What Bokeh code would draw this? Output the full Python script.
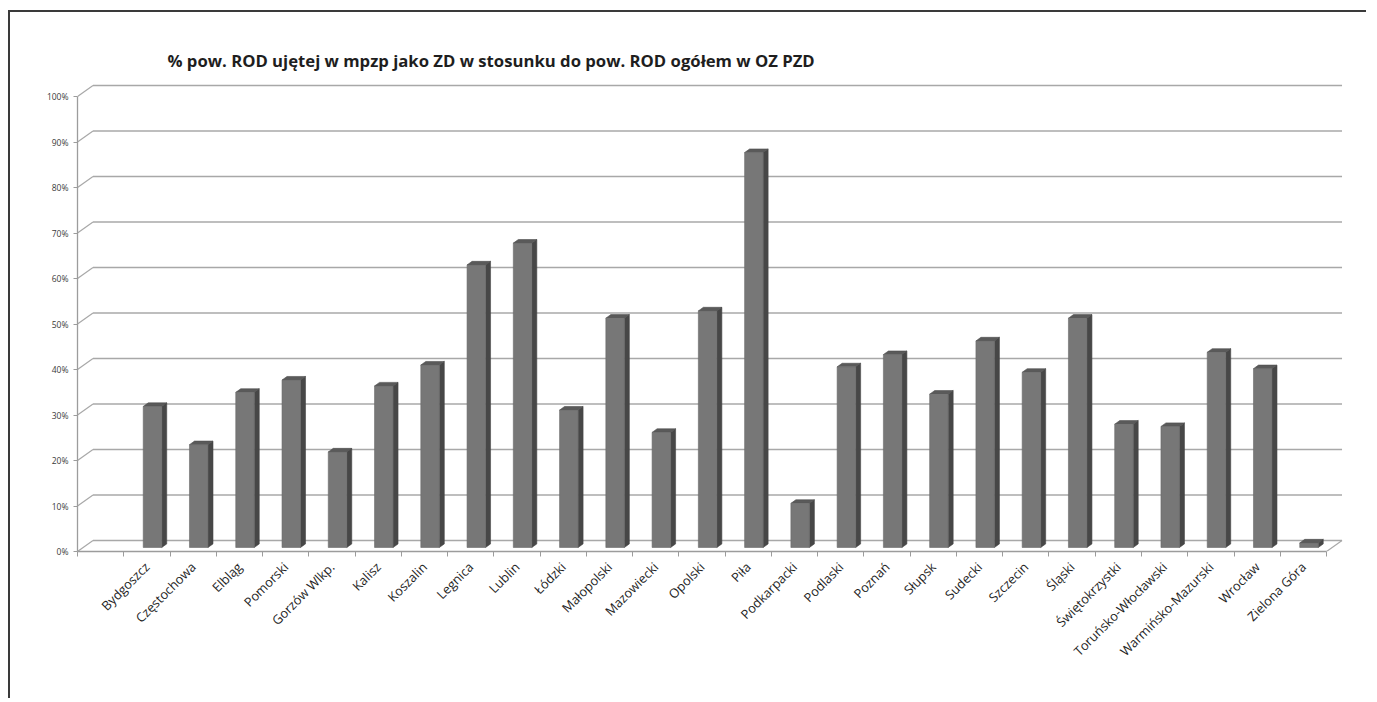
import math

from bokeh.embed import file_html
from bokeh.models import FixedTicker, PrintfTickFormatter, Range1d
from bokeh.plotting import figure
from bokeh.resources import INLINE

# Share of allotment-garden (ROD) area designated as ZD in local plans, per PZD district
regions = [
    "Bydgoszcz", "Częstochowa", "Elbląg", "Pomorski", "Gorzów Wlkp.", "Kalisz",
    "Koszalin", "Legnica", "Lublin", "Łódzki", "Małopolski", "Mazowiecki",
    "Opolski", "Piła", "Podkarpacki", "Podlaski", "Poznań", "Słupsk", "Sudecki",
    "Szczecin", "Śląski", "Świętokrzystki", "Toruńsko-Włocławski",
    "Warmińsko-Mazurski", "Wrocław", "Zielona Góra",
]
share_pct = [
    31.0, 22.6, 34.1, 36.8, 21.0, 35.5,
    40.1, 62.1, 66.9, 30.2, 50.4, 25.3,
    52.0, 86.8, 9.7, 39.7, 42.4, 33.7, 45.4,
    38.5, 50.4, 27.1, 26.6,
    42.9, 39.3, 1.0,
]
y_ticks = list(range(0, 101, 10))

title_text = "% pow. ROD ujętej w mpzp jako ZD w stosunku do pow. ROD ogółem w OZ PZD"

# category slots: the first slot of the axis is left empty
n_slots = len(regions) + 1
centers = [k + 1.5 for k in range(len(regions))]

# pseudo-3D geometry (x in slot units, y in percent units)
WALL_DX, WALL_DY = 0.335, 2.42     # depth of the floor / back wall
FACE_DX, FACE_DY = 0.121, 0.88     # bar front face position in depth
BAR_DX, BAR_DY = 0.108, 0.79       # bar thickness in depth
BAR_W = 0.40

GRID = "#a8a8a8"
AXIS = "#9c9c9c"

p = figure(
    width=1358, height=688,
    x_range=Range1d(0, 27.41), y_range=Range1d(0, 103.52),
    output_backend="svg", toolbar_location=None,
    min_border_left=67, min_border_right=23, min_border_top=68, min_border_bottom=149,
    background_fill_color="white", border_fill_color="white",
    outline_line_color=None,
)
# chart-area frame: dark line along the top and left edges
p.margin = (12, 0, 0, 10)
p.styles = {"box-shadow": "-2px -2px 0 0 #3a3a3a"}

p.title.text = title_text
p.title.align = "left"
p.title.offset = 90
p.title.text_font = "Open Sans"
p.title.text_font_size = "16.7px"
p.title.text_font_style = "bold"
p.title.text_color = "#1e1e1e"
p.title.standoff = 17

p.xgrid.visible = False
p.ygrid.visible = False

# back wall gridlines and left wall diagonals
levels = y_ticks
p.segment(x0=[WALL_DX] * len(levels), y0=[v + WALL_DY for v in levels],
          x1=[n_slots + WALL_DX] * len(levels), y1=[v + WALL_DY for v in levels],
          line_color=GRID, line_width=1.4)
p.segment(x0=[0] * len(levels), y0=levels,
          x1=[WALL_DX] * len(levels), y1=[v + WALL_DY for v in levels],
          line_color=GRID, line_width=1.2)
# right edge of the floor
p.segment(x0=[n_slots], y0=[0], x1=[n_slots + WALL_DX], y1=[WALL_DY],
          line_color=GRID, line_width=1.2)

# bars: front face, side face and top cap
lefts = [c + FACE_DX - BAR_W / 2 for c in centers]
rights = [l + BAR_W for l in lefts]
bottoms = [FACE_DY] * len(share_pct)
tops = [v + FACE_DY for v in share_pct]

side_xs = [[r, r + BAR_DX, r + BAR_DX, r] for r in rights]
side_ys = [[b, b + BAR_DY, t + BAR_DY, t] for b, t in zip(bottoms, tops)]
top_xs = [[l, r, r + BAR_DX, l + BAR_DX] for l, r in zip(lefts, rights)]
top_ys = [[t, t, t + BAR_DY, t + BAR_DY] for t in tops]

p.patches(side_xs, side_ys, fill_color="#474747", line_color="#474747", line_width=0.6)
p.patches(top_xs, top_ys, fill_color="#5a5a5a", line_color="#4e4e4e", line_width=0.6)
p.quad(left=lefts, right=rights, bottom=bottoms, top=tops,
       fill_color="#777777", line_color="#6a6a6a", line_width=0.6)

# y axis (front edge of the left wall)
ya = p.yaxis[0]
ya.ticker = FixedTicker(ticks=y_ticks)
ya.formatter = PrintfTickFormatter(format="%d%%")
ya.bounds = (0, 100)
ya.axis_line_color = AXIS
ya.axis_line_width = 1.3
ya.major_tick_line_color = AXIS
ya.major_tick_out = 4
ya.major_tick_in = 0
ya.minor_tick_line_color = None
ya.major_label_standoff = 5
ya.major_label_text_font = "Open Sans"
ya.major_label_text_font_size = "8.5px"
ya.major_label_text_color = "#3a3a3a"

# x axis: labels at slot centres, tick marks at slot boundaries
xa = p.xaxis[0]
xa.ticker = FixedTicker(ticks=centers, minor_ticks=list(range(n_slots + 1)))
xa.major_label_overrides = {c: name for c, name in zip(centers, regions)}
xa.major_label_orientation = math.pi / 4
xa.bounds = (0, n_slots)
xa.axis_line_color = AXIS
xa.axis_line_width = 1.3
xa.major_tick_line_color = None
xa.major_tick_out = 0
xa.major_tick_in = 0
xa.minor_tick_line_color = AXIS
xa.minor_tick_out = 5
xa.minor_tick_in = 0
xa.major_label_standoff = 8
xa.major_label_text_font = "Open Sans"
xa.major_label_text_font_size = "12.8px"
xa.major_label_text_color = "#1e1e1e"

open("out.html", "w").write(file_html(p, INLINE))
